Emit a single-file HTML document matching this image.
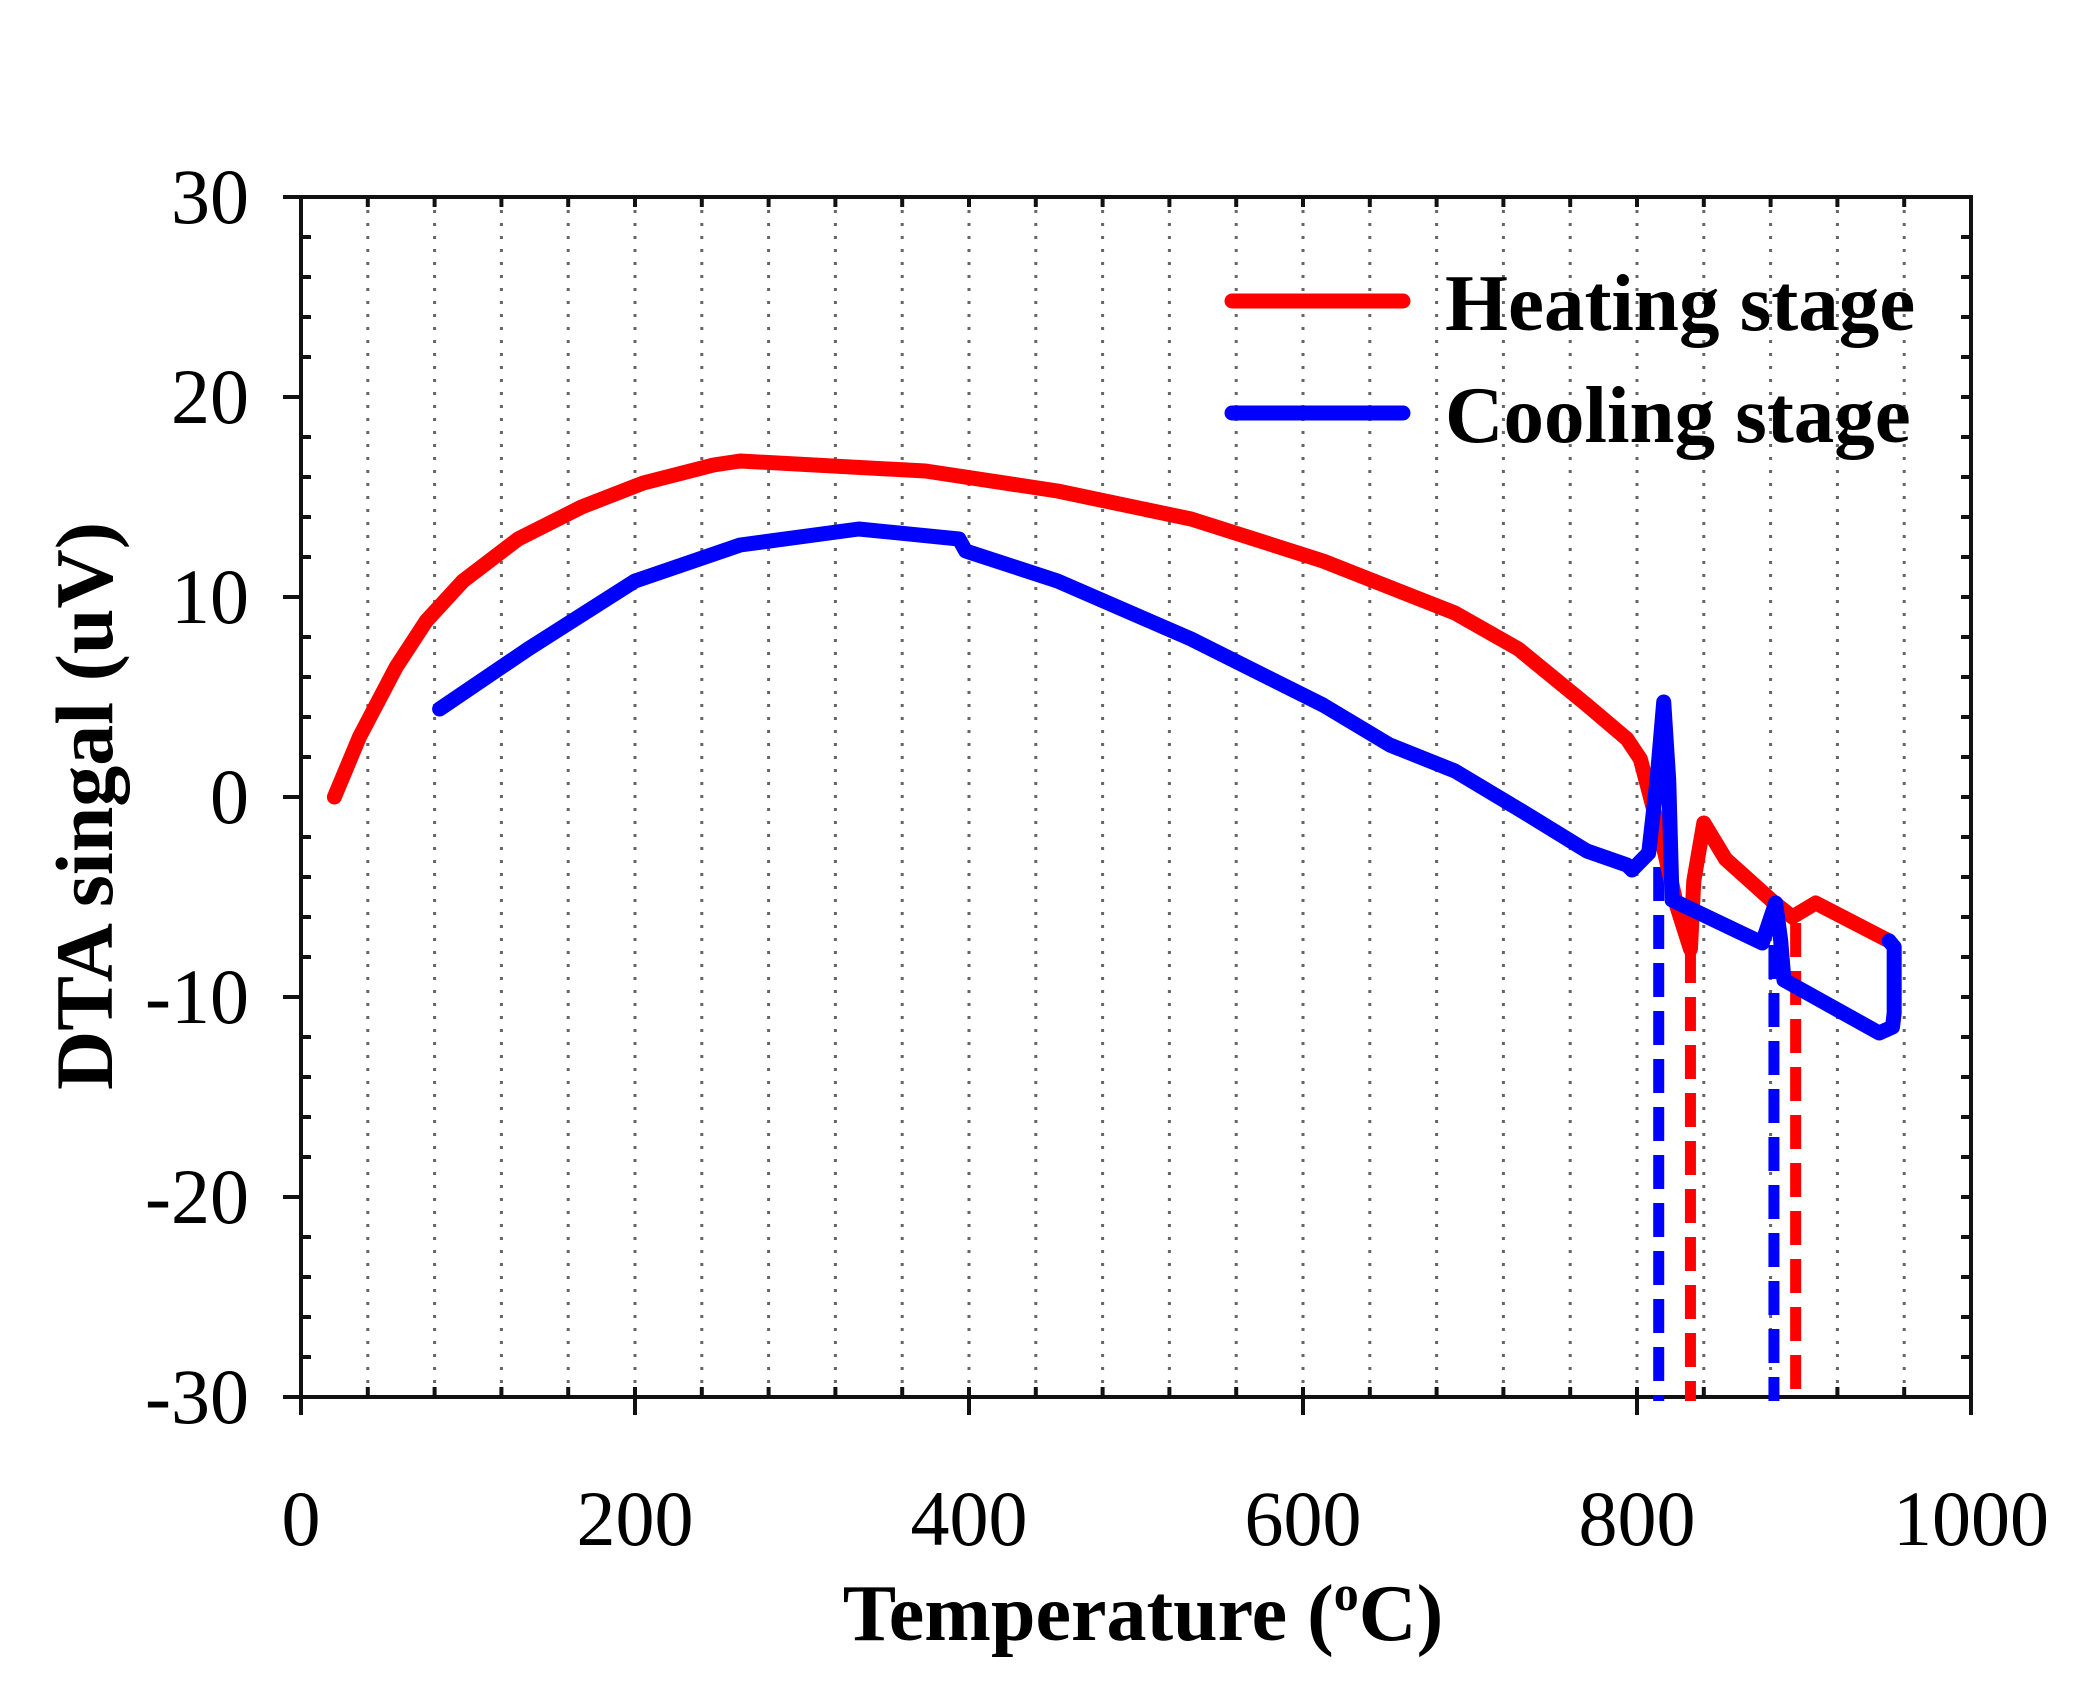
<!DOCTYPE html>
<html><head><meta charset="utf-8"><style>
html,body{margin:0;padding:0;background:#fff}
svg{display:block}
text{font-family:"Liberation Serif",serif;fill:#000}
</style></head><body>
<svg id="chart" width="2078" height="1685" viewBox="0 0 2078 1685" xmlns="http://www.w3.org/2000/svg">
<g id="grid"></g>
<g id="axes"></g>
<g id="series"></g>
<text x="1143" y="1640" text-anchor="middle" font-size="80" font-weight="bold">Temperature (<tspan font-size="50" dy="-30">o</tspan><tspan dy="30">C)</tspan></text>
<text transform="translate(112,806) rotate(-90)" text-anchor="middle" font-size="82" font-weight="bold">DTA singal (uV)</text>
<g>
<line x1="1232" y1="301" x2="1403" y2="301" stroke="#ff0000" stroke-width="15" stroke-linecap="round"/>
<text x="1445" y="330" font-size="81" font-weight="bold">Heating stage</text>
<line x1="1232" y1="413" x2="1403" y2="413" stroke="#0000ff" stroke-width="15" stroke-linecap="round"/>
<text x="1445" y="442" font-size="81" font-weight="bold">Cooling stage</text>
</g>
</svg>
<script>
const heatT=[20,35,57,75,97,130,168,205,247,263,374,453,533,612,691,729,770,794,802,808,815,824,832,834,840,853,881,893,907,951];
const heatV=[0,3,6.5,8.8,10.8,12.9,14.5,15.7,16.6,16.8,16.3,15.3,13.9,11.8,9.2,7.4,4.6,2.9,1.9,0,-2.2,-5.5,-7.6,-4.2,-1.3,-3.1,-5.2,-6,-5.3,-7.2];
const coolT=[951,954,954,953,945,888,886,883,875,821,819,816,812,807,797,794,770,731,691,652,612,533,453,398,394,334,263,200,136,83];
const coolV=[-7.2,-7.5,-10.8,-11.5,-11.8,-9.15,-7.15,-5.3,-7.3,-5.15,0.85,4.75,0.85,-2.8,-3.65,-3.4,-2.7,-0.7,1.3,2.6,4.6,7.9,10.8,12.3,12.9,13.4,12.6,10.8,7.4,4.4];
const markerT=[813,832,882,895];
const markerV=[-3.5,-7.6,-7.4,-6.3];
const markerColor=["#0000ff","#ff0000","#0000ff","#ff0000"];
const xTicks=[0,200,400,600,800,1000];
const yTicks=[30,20,10,0,-10,-20,-30];

const X0=301,X1=1971,Y0=197,Y1=1397;
const xs=t=>X0+(t-0)/1000*(X1-X0);
const ys=v=>Y0+(30-v)/60*(Y1-Y0);
const NS="http://www.w3.org/2000/svg";
function mk(tag,attrs,parent){const e=document.createElementNS(NS,tag);for(const k in attrs)e.setAttribute(k,attrs[k]);parent.appendChild(e);return e;}
const grid=document.getElementById('grid'),axes=document.getElementById('axes'),series=document.getElementById('series');
for(let t=40;t<1000;t+=40){
  const l=mk('line',{x1:xs(t),x2:xs(t),y1:Y0,y2:Y1,stroke:'#666','stroke-width':3,'stroke-dasharray':'3 10'},grid);
  
  
}
const frame=mk('rect',{x:X0,y:Y0,width:X1-X0,height:Y1-Y0,fill:'none',stroke:'#111','stroke-width':4},axes);


for(let v=-30;v<=30;v+=2){
  const major=v%10===0;
  mk('line',{x1:major?X0-18:X0,x2:X0+(major?0:10),y1:ys(v),y2:ys(v),stroke:'#111','stroke-width':4},axes);
  mk('line',{x1:X1-10,x2:X1,y1:ys(v),y2:ys(v),stroke:'#111','stroke-width':4},axes);
}
for(let t=0;t<=1000;t+=40){
  mk('line',{x1:xs(t),x2:xs(t),y1:Y0,y2:Y0+10,stroke:'#111','stroke-width':4},axes);
  mk('line',{x1:xs(t),x2:xs(t),y1:Y1-10,y2:Y1,stroke:'#111','stroke-width':4},axes);
}
xTicks.forEach(t=>{
  mk('line',{x1:xs(t),x2:xs(t),y1:Y1,y2:Y1+18,stroke:'#111','stroke-width':4},axes);
  const tx=mk('text',{x:xs(t),y:1545,'text-anchor':'middle','font-size':78},axes);
  tx.textContent=t;
  
  
});
yTicks.forEach(v=>{
  const tx=mk('text',{x:249,y:ys(v)+26,'text-anchor':'end','font-size':78},axes);
  tx.textContent=v;
  
  
});
markerT.forEach((t,i)=>{
  const l=mk('line',{x1:xs(t),x2:xs(t),y1:ys(markerV[i]),y2:Y1+4,stroke:markerColor[i],'stroke-width':11,'stroke-dasharray':'34 14'},series);
  
  
});
function poly(T,V,color,name){
  const p=mk('polyline',{points:T.map((t,i)=>xs(t)+','+ys(V[i])).join(' '),fill:'none',stroke:color,'stroke-width':15,'stroke-linejoin':'round','stroke-linecap':'round'},series);
  
  
}
poly(heatT,heatV,'#ff0000','heating-curve');
poly(coolT,coolV,'#0000ff','cooling-curve');
</script>
</body></html>
